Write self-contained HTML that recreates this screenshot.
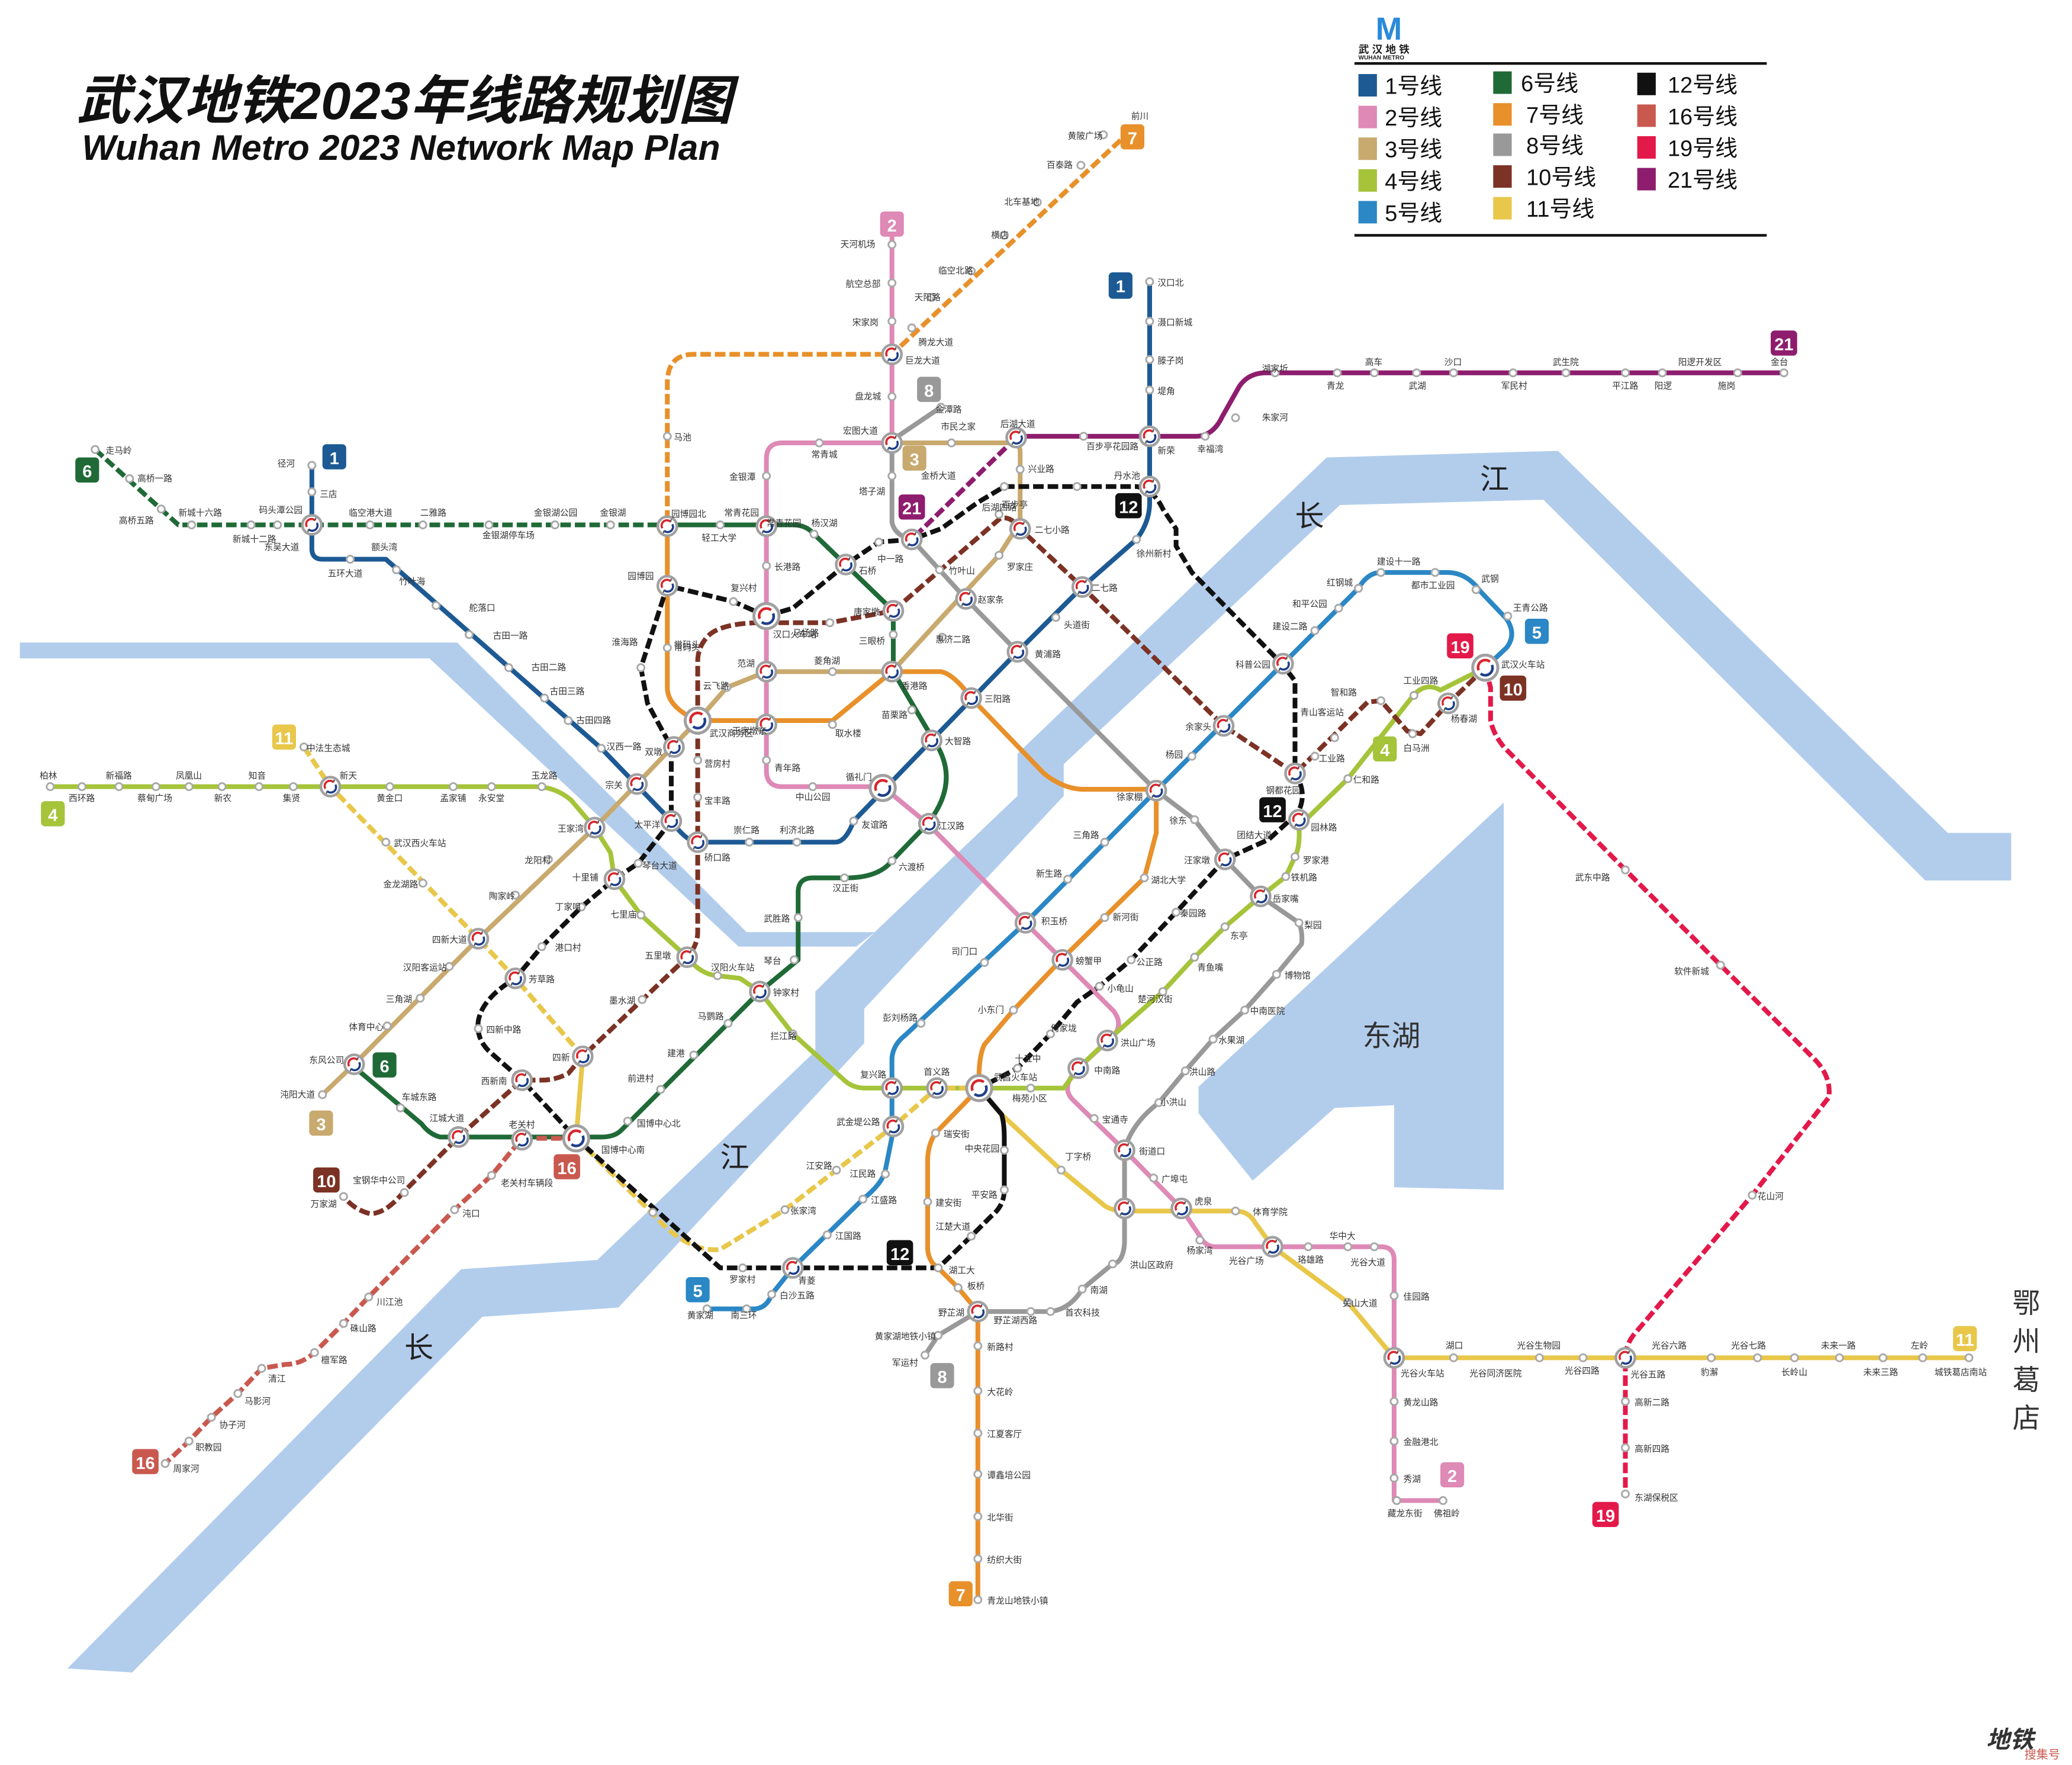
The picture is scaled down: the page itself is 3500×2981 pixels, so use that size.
<!DOCTYPE html>
<html><head><meta charset="utf-8"><style>
html,body{margin:0;padding:0;background:#fff;}
svg{display:block;}
text{font-family:"Liberation Sans","Noto Sans CJK SC",sans-serif;}
.l{font-size:6.6px;fill:#333;}
.m{font-size:13px;fill:#fff;text-anchor:middle;font-weight:bold;}
.ln{fill:none;stroke-width:3.6;stroke-linejoin:round;stroke-linecap:round;}
.d{stroke-dasharray:8 3;stroke-linecap:butt;}
</style></head><body>
<svg xmlns="http://www.w3.org/2000/svg" width="3500" height="2981" viewBox="0 0 1568 1335" preserveAspectRatio="none">
<defs>
<g id="s"><circle r="2.7" fill="#fff" stroke="#a8a8a8" stroke-width="1.3"/></g>
<g id="x"><circle r="7.2" fill="#fff" stroke="#a0a0a0" stroke-width="2"/><path d="M-3.8,1.5 A4,4 0 0 1 2.5,-3.3" fill="none" stroke="#d8262c" stroke-width="1.6"/><path d="M3.8,-1.5 A4,4 0 0 1 -2.5,3.3" fill="none" stroke="#1d3f8a" stroke-width="1.6"/><path d="M2.5,-3.3 l0.5,-2 M-2.5,3.3 l-0.5,2" stroke="#555" stroke-width="1"/></g>
<g id="X"><circle r="9.5" fill="#fff" stroke="#a0a0a0" stroke-width="2.2"/><path d="M-5,2 A5.5,5.5 0 0 1 3.5,-4.5" fill="none" stroke="#d8262c" stroke-width="2"/><path d="M5,-2 A5.5,5.5 0 0 1 -3.5,4.5" fill="none" stroke="#1d3f8a" stroke-width="2"/></g>
</defs>
<rect width="1568" height="1335" fill="#fff"/>

<!-- rivers -->
<g fill="#b2cdec">
<path d="M51,1262 L349,960 L452,953 L617,795 L617,750 L663,704 L770,602 L770,570 L1004,346 L1179,341 L1474,630 L1522,630 L1522,666 L1457,666 L1168,378 L1014,382 L805,578 L805,602 L654,763 L654,789 L468,989 L365,996 L100,1265 Z"/>
<path d="M15,486 L346,486 L565,705 L662,705 L648,716 L559,716 L325,498 L15,498 Z"/>
<path d="M1138,607 L907,822 L907,842 L948,893 L1010,838 L1055,836 L1055,898 L1138,900 Z"/>
</g>
<text x="980" y="398" font-size="22" fill="#222" font-family="Liberation Serif,'Noto Serif CJK SC',serif">长</text>
<text x="1120" y="370" font-size="22" fill="#222" font-family="Liberation Serif,'Noto Serif CJK SC',serif">江</text>
<text x="545" y="883" font-size="22" fill="#222" font-family="Liberation Serif,'Noto Serif CJK SC',serif">江</text>
<text x="306" y="1027" font-size="22" fill="#222" font-family="Liberation Serif,'Noto Serif CJK SC',serif">长</text>
<text x="1031" y="791" font-size="22" fill="#333">东湖</text>
<g font-size="21" fill="#333"><text x="1523" y="993">鄂</text><text x="1523" y="1022">州</text><text x="1523" y="1051">葛</text><text x="1523" y="1080">店</text></g>

<!-- title -->
<text x="58" y="90" font-size="40" font-weight="bold" font-style="italic" fill="#111" textLength="496" lengthAdjust="spacingAndGlyphs">武汉地铁2023年线路规划图</text>
<text x="62" y="121" font-size="27" font-weight="bold" font-style="italic" fill="#111" textLength="483" lengthAdjust="spacingAndGlyphs">Wuhan Metro 2023 Network Map Plan</text>

<!-- legend -->
<text x="1041" y="30" font-size="24" font-weight="bold" fill="#2a8ad8">M</text>
<text x="1028" y="40" font-size="8" font-weight="bold" fill="#222">武 汉 地 铁</text>
<text x="1028" y="45" font-size="4.5" font-weight="bold" fill="#222">WUHAN METRO</text>
<rect x="1025" y="47" width="312" height="2" fill="#111"/>
<rect x="1025" y="177" width="312" height="2" fill="#111"/>
<g font-size="17" fill="#111">
<rect x="1028" y="56" width="14" height="17" fill="#1d5a94"/><text x="1048" y="71">1号线</text>
<rect x="1028" y="80" width="14" height="17" fill="#de89b6"/><text x="1048" y="95">2号线</text>
<rect x="1028" y="104" width="14" height="17" fill="#c8a96e"/><text x="1048" y="119">3号线</text>
<rect x="1028" y="128" width="14" height="17" fill="#a5c43a"/><text x="1048" y="143">4号线</text>
<rect x="1028" y="152" width="14" height="17" fill="#2b87c5"/><text x="1048" y="167">5号线</text>
<rect x="1130" y="54" width="14" height="17" fill="#1f6a37"/><text x="1151" y="69">6号线</text>
<rect x="1130" y="78" width="14" height="17" fill="#e8902a"/><text x="1155" y="93">7号线</text>
<rect x="1130" y="101" width="14" height="17" fill="#999"/><text x="1155" y="116">8号线</text>
<rect x="1130" y="125" width="14" height="17" fill="#7c3224"/><text x="1155" y="140">10号线</text>
<rect x="1130" y="149" width="14" height="17" fill="#e8c74a"/><text x="1155" y="164">11号线</text>
<rect x="1239" y="55" width="14" height="17" fill="#111"/><text x="1262" y="70">12号线</text>
<rect x="1239" y="79" width="14" height="17" fill="#c9594f"/><text x="1262" y="94">16号线</text>
<rect x="1239" y="103" width="14" height="17" fill="#e3194a"/><text x="1262" y="118">19号线</text>
<rect x="1239" y="127" width="14" height="17" fill="#8e1d6e"/><text x="1262" y="142">21号线</text>
</g>

<!-- lines -->
<path class="ln" stroke="#8e1d6e" d="M1350,282 H958 Q945,282 938,292 L925,315 Q918,330 905,330 H769"/>
<path class="ln d" stroke="#8e1d6e" d="M769,331 L690,408"/>
<path class="ln" stroke="#999" d="M712,308 L675,333 V395 Q677,405 690,408 L711,431 L731,453 L770,493 L875,598 L904,620 L927,650 L954,678 L983,698 Q986,705 985,714 L966,737 L942,764 L918,786 L897,810 L877,834 Q856,850 851,870 V940 Q850,955 842,956 L819,975 Q810,990 795,992 H740 L710,1010 L700,1025"/>
<path class="ln" stroke="#c8a96e" d="M675,335 H765 Q772,335 772,342 V395 L756,420 L675,508 H580 L550,520 L528,545 L482,593 L450,626 L362,710 L268,805 L244,828"/>
<path class="ln" stroke="#1d5a94" d="M236,352 V415 Q236,423 244,423 H292 L455,566 L508,621 Q520,637 528,637 H632 Q640,637 646,621 L705,560 L770,493 L819,444 L860,408 Q870,395 870,380 V213"/>
<path class="ln" stroke="#de89b6" d="M675,178 V335 H592 Q580,335 580,347 V583 Q580,595 592,595 H668 L702,623 L776,698 L804,726 L843,765 Q850,775 843,783 L816,808 Q802,822 812,832 L851,870 L894,914 L908,935 Q912,943 920,943 H1045 Q1055,943 1055,953 V1135 H1092"/>
<path class="ln" stroke="#a5c43a" d="M38,595 H405 Q420,595 432,605 L450,626 L462,645 L465,665 L485,692 L520,724 Q530,737 543,738 L560,740 L575,750 L600,782 L640,818 Q646,823 655,823 H805 L816,808 L838,787 L880,750 L904,724 L927,701 L954,678 L973,663 L980,648 Q984,640 983,625 L1020,589 L1068,528 Q1078,515 1090,522 L1124,505"/>
<path class="ln" stroke="#2b87c5" d="M535,990 H570 Q580,990 584,979 L600,959 L653,907 Q668,895 670,885 L675,860 V800 Q676,790 685,783 L776,698 L875,598 L971,502 L1028,445 Q1035,433 1045,433 H1095 Q1110,433 1120,447 L1140,468 Q1148,480 1140,490 L1124,505"/>
<path class="ln d" stroke="#1f6a37" d="M72,340 L135,397 H505"/>
<path class="ln" stroke="#1f6a37" d="M505,397 H600 Q610,397 616,404 L676,462 V508 L706,559 Q728,590 702,623 L675,651 Q665,664 640,664 H615 Q604,664 604,675 V726 L575,750 L470,855 Q465,860 455,860 H333 Q325,858 319,850 L268,807"/>
<path class="ln d" stroke="#e8902a" d="M848,106 L675,268 H525 Q505,268 505,290 V398"/>
<path class="ln" stroke="#e8902a" d="M505,398 V520 Q505,535 528,545 H630 L675,508 H712 Q722,510 735,528 L790,585 Q805,597 820,597 H875 V630 L866,664 L805,724 L767,764 L745,790 Q740,800 741,823 L708,857 Q702,866 702,878 V945 Q703,955 710,959 L725,974 L740,992 V1210"/>
<path class="ln d" stroke="#7c3224" d="M1124,505 L1096,532 L1075,555 L1065,553 L1045,530 L1035,531 L980,585 L926,549 L819,444 L772,400 Q765,390 757,392 L676,462 L628,471 H585 Q545,470 535,482 Q528,490 528,500 V705 Q528,715 520,724 L441,799 L430,812 Q420,817 410,817 H395 L347,860 L305,902 Q292,918 280,918 Q268,915 260,905"/>
<path class="ln d" stroke="#e8c74a" d="M230,565 L250,595 L362,710 L390,740 L441,799"/>
<path class="ln" stroke="#e8c74a" d="M441,799 L436,861"/>
<path class="ln d" stroke="#e8c74a" d="M436,861 L493,917 Q520,948 545,945 L594,915 L633,885 L676,852 L709,823 L741,823"/>
<path class="ln" stroke="#e8c74a" d="M741,823 L758,843 L803,885 L836,912 Q842,916 851,916 H935 Q945,916 950,925 L963,943 L1020,985 L1055,1027 H1490"/>
<path class="ln d" stroke="#111" d="M580,466 L600,460 L640,427 L665,410 L690,408 L712,400 L740,380 L760,368 H860 Q873,370 880,385 L890,400 V413 L902,433 L970,502 L980,515 V585 Q990,600 982,615 L960,635 L927,650 L890,690 L856,726 L832,746 L815,758 L795,782 L770,808 L741,823"/>
<path class="ln" stroke="#111" d="M741,823 L758,843 Q760,850 760,860 V900"/>
<path class="ln d" stroke="#111" d="M760,900 Q760,912 750,920 L735,935 L710,959 H545 L436,861 L395,817 L370,795 Q360,785 362,772 Q365,755 390,740 L410,716 L440,686 L465,665 L483,653 L508,621 V565 L490,532 L485,505 L505,443 L555,455 L580,466"/>
<path class="ln d" stroke="#c9594f" d="M436,861 H395 L372,889 L344,915 L279,981 L260,1001 L238,1023 Q228,1032 216,1032 L198,1035 L180,1054 L160,1072 L143,1090 L125,1107"/>
<path class="ln d" stroke="#e3194a" d="M1124,505 L1128,520 V545 Q1130,555 1138,565 L1230,658 L1374,802 Q1386,815 1384,830 L1326,904 L1236,1010 Q1230,1018 1230,1027 V1130"/>

<!-- stations -->
<g>
<use href="#s" x="236" y="352"/><use href="#s" x="236" y="372"/><use href="#s" x="265" y="423"/><use href="#s" x="300" y="431"/><use href="#s" x="330" y="458"/><use href="#s" x="355" y="480"/><use href="#s" x="385" y="505"/><use href="#s" x="412" y="528"/><use href="#s" x="430" y="545"/><use href="#s" x="455" y="566"/><use href="#s" x="567" y="637"/><use href="#s" x="603" y="637"/><use href="#s" x="646" y="621"/><use href="#s" x="799" y="467"/><use href="#s" x="860" y="408"/><use href="#s" x="870" y="213"/><use href="#s" x="870" y="243"/><use href="#s" x="870" y="272"/><use href="#s" x="870" y="295"/>
<use href="#s" x="675" y="185"/><use href="#s" x="675" y="214"/><use href="#s" x="675" y="243"/><use href="#s" x="675" y="300"/><use href="#s" x="620" y="335"/><use href="#s" x="580" y="360"/><use href="#s" x="580" y="428"/><use href="#s" x="580" y="575"/><use href="#s" x="615" y="595"/><use href="#s" x="828" y="846"/><use href="#s" x="873" y="891"/><use href="#s" x="908" y="938"/><use href="#s" x="990" y="943"/><use href="#s" x="1020" y="943"/><use href="#s" x="1040" y="943"/><use href="#s" x="1055" y="980"/><use href="#s" x="1055" y="1060"/><use href="#s" x="1055" y="1090"/><use href="#s" x="1055" y="1118"/><use href="#s" x="1057" y="1135"/><use href="#s" x="1092" y="1135"/>
<use href="#s" x="720" y="335"/><use href="#s" x="772" y="355"/><use href="#s" x="756" y="420"/><use href="#s" x="713" y="482"/><use href="#s" x="630" y="508"/><use href="#s" x="550" y="520"/><use href="#s" x="415" y="650"/><use href="#s" x="390" y="677"/><use href="#s" x="340" y="731"/><use href="#s" x="318" y="755"/><use href="#s" x="293" y="776"/><use href="#s" x="244" y="828"/>
<use href="#s" x="38" y="595"/><use href="#s" x="62" y="595"/><use href="#s" x="90" y="595"/><use href="#s" x="118" y="595"/><use href="#s" x="143" y="595"/><use href="#s" x="168" y="595"/><use href="#s" x="196" y="595"/><use href="#s" x="222" y="595"/><use href="#s" x="295" y="595"/><use href="#s" x="343" y="595"/><use href="#s" x="372" y="595"/><use href="#s" x="410" y="595"/><use href="#s" x="485" y="692"/><use href="#s" x="543" y="738"/><use href="#s" x="600" y="782"/><use href="#s" x="780" y="823"/><use href="#s" x="880" y="750"/><use href="#s" x="904" y="724"/><use href="#s" x="927" y="701"/><use href="#s" x="973" y="663"/><use href="#s" x="980" y="648"/><use href="#s" x="1020" y="589"/><use href="#s" x="1070" y="526"/>
<use href="#s" x="535" y="990"/><use href="#s" x="565" y="990"/><use href="#s" x="584" y="979"/><use href="#s" x="626" y="934"/><use href="#s" x="653" y="907"/><use href="#s" x="670" y="888"/><use href="#s" x="697" y="774"/><use href="#s" x="745" y="728"/><use href="#s" x="808" y="665"/><use href="#s" x="836" y="637"/><use href="#s" x="902" y="572"/><use href="#s" x="995" y="477"/><use href="#s" x="1013" y="460"/><use href="#s" x="1028" y="445"/><use href="#s" x="1045" y="433"/><use href="#s" x="1086" y="433"/><use href="#s" x="1117" y="446"/><use href="#s" x="1141" y="466"/>
<use href="#s" x="72" y="340"/><use href="#s" x="98" y="362"/><use href="#s" x="122" y="385"/><use href="#s" x="145" y="397"/><use href="#s" x="190" y="397"/><use href="#s" x="210" y="397"/><use href="#s" x="280" y="397"/><use href="#s" x="320" y="397"/><use href="#s" x="370" y="397"/><use href="#s" x="420" y="397"/><use href="#s" x="462" y="397"/><use href="#s" x="545" y="397"/><use href="#s" x="616" y="404"/><use href="#s" x="676" y="480"/><use href="#s" x="690" y="537"/><use href="#s" x="675" y="651"/><use href="#s" x="639" y="664"/><use href="#s" x="604" y="694"/><use href="#s" x="601" y="726"/><use href="#s" x="551" y="774"/><use href="#s" x="525" y="798"/><use href="#s" x="500" y="824"/><use href="#s" x="475" y="848"/><use href="#s" x="303" y="838"/>
<use href="#s" x="835" y="102"/><use href="#s" x="818" y="125"/><use href="#s" x="785" y="153"/><use href="#s" x="760" y="178"/><use href="#s" x="735" y="205"/><use href="#s" x="705" y="225"/><use href="#s" x="690" y="248"/><use href="#s" x="505" y="330"/><use href="#s" x="505" y="490"/><use href="#s" x="630" y="548"/><use href="#s" x="866" y="664"/><use href="#s" x="836" y="694"/><use href="#s" x="767" y="764"/><use href="#s" x="708" y="857"/><use href="#s" x="702" y="909"/><use href="#s" x="710" y="959"/><use href="#s" x="725" y="974"/><use href="#s" x="740" y="1018"/><use href="#s" x="740" y="1052"/><use href="#s" x="740" y="1084"/><use href="#s" x="740" y="1115"/><use href="#s" x="740" y="1147"/><use href="#s" x="740" y="1179"/><use href="#s" x="740" y="1210"/>
<use href="#s" x="712" y="308"/><use href="#s" x="675" y="360"/><use href="#s" x="711" y="431"/><use href="#s" x="731" y="453"/><use href="#s" x="904" y="620"/><use href="#s" x="983" y="698"/><use href="#s" x="966" y="737"/><use href="#s" x="942" y="764"/><use href="#s" x="918" y="786"/><use href="#s" x="897" y="810"/><use href="#s" x="877" y="834"/><use href="#s" x="842" y="956"/><use href="#s" x="819" y="975"/><use href="#s" x="795" y="992"/><use href="#s" x="780" y="992"/><use href="#s" x="710" y="1010"/><use href="#s" x="700" y="1025"/>
<use href="#s" x="1069" y="555"/><use href="#s" x="1045" y="530"/><use href="#s" x="1010" y="558"/><use href="#s" x="995" y="572"/><use href="#s" x="756" y="389"/><use href="#s" x="628" y="471"/><use href="#s" x="528" y="575"/><use href="#s" x="528" y="603"/><use href="#s" x="486" y="756"/><use href="#s" x="306" y="902"/><use href="#s" x="260" y="905"/>
<use href="#s" x="230" y="565"/><use href="#s" x="292" y="637"/><use href="#s" x="320" y="668"/><use href="#s" x="494" y="917"/><use href="#s" x="594" y="915"/><use href="#s" x="633" y="885"/><use href="#s" x="803" y="885"/><use href="#s" x="935" y="916"/><use href="#s" x="1020" y="985"/><use href="#s" x="1100" y="1027"/><use href="#s" x="1165" y="1027"/><use href="#s" x="1198" y="1027"/><use href="#s" x="1295" y="1027"/><use href="#s" x="1330" y="1027"/><use href="#s" x="1358" y="1027"/><use href="#s" x="1392" y="1027"/><use href="#s" x="1425" y="1027"/><use href="#s" x="1455" y="1027"/><use href="#s" x="1490" y="1027"/>
<use href="#s" x="555" y="455"/><use href="#s" x="665" y="410"/><use href="#s" x="760" y="368"/><use href="#s" x="815" y="368"/><use href="#s" x="890" y="690"/><use href="#s" x="856" y="726"/><use href="#s" x="832" y="746"/><use href="#s" x="795" y="782"/><use href="#s" x="770" y="808"/><use href="#s" x="760" y="870"/><use href="#s" x="760" y="900"/><use href="#s" x="735" y="935"/><use href="#s" x="562" y="959"/><use href="#s" x="362" y="778"/><use href="#s" x="410" y="716"/><use href="#s" x="440" y="686"/><use href="#s" x="483" y="653"/><use href="#s" x="485" y="505"/>
<use href="#s" x="372" y="889"/><use href="#s" x="344" y="915"/><use href="#s" x="279" y="981"/><use href="#s" x="260" y="1001"/><use href="#s" x="238" y="1023"/><use href="#s" x="198" y="1035"/><use href="#s" x="180" y="1054"/><use href="#s" x="160" y="1072"/><use href="#s" x="143" y="1090"/><use href="#s" x="125" y="1107"/>
<use href="#s" x="1230" y="658"/><use href="#s" x="1302" y="730"/><use href="#s" x="1326" y="904"/><use href="#s" x="1230" y="1060"/><use href="#s" x="1230" y="1095"/><use href="#s" x="1230" y="1130"/>
<use href="#s" x="1350" y="282"/><use href="#s" x="1315" y="282"/><use href="#s" x="1258" y="282"/><use href="#s" x="1230" y="282"/><use href="#s" x="1185" y="282"/><use href="#s" x="1145" y="282"/><use href="#s" x="1100" y="282"/><use href="#s" x="1072" y="282"/><use href="#s" x="1040" y="282"/><use href="#s" x="1012" y="282"/><use href="#s" x="965" y="282"/><use href="#s" x="935" y="316"/><use href="#s" x="912" y="330"/><use href="#s" x="820" y="330"/>
</g>

<!-- interchanges -->
<g>
<use href="#x" x="236" y="397"/><use href="#x" x="505" y="398"/><use href="#x" x="580" y="398"/><use href="#x" x="675" y="268"/><use href="#x" x="675" y="335"/><use href="#x" x="769" y="331"/><use href="#x" x="870" y="330"/><use href="#x" x="772" y="400"/><use href="#x" x="870" y="368"/><use href="#x" x="690" y="408"/><use href="#x" x="640" y="427"/><use href="#X" x="580" y="466"/><use href="#x" x="505" y="443"/><use href="#x" x="676" y="462"/><use href="#x" x="819" y="444"/><use href="#x" x="731" y="453"/><use href="#x" x="770" y="493"/><use href="#x" x="735" y="528"/><use href="#x" x="675" y="508"/><use href="#x" x="580" y="508"/><use href="#X" x="528" y="545"/><use href="#x" x="580" y="548"/><use href="#x" x="510" y="565"/><use href="#x" x="482" y="593"/><use href="#x" x="508" y="621"/><use href="#x" x="528" y="637"/><use href="#X" x="668" y="596"/><use href="#x" x="705" y="560"/><use href="#x" x="703" y="623"/><use href="#x" x="450" y="626"/><use href="#x" x="465" y="665"/><use href="#x" x="362" y="710"/><use href="#x" x="390" y="740"/><use href="#x" x="520" y="724"/><use href="#x" x="575" y="750"/><use href="#x" x="441" y="799"/><use href="#x" x="395" y="817"/><use href="#x" x="268" y="805"/><use href="#x" x="347" y="860"/><use href="#x" x="395" y="862"/><use href="#X" x="436" y="861"/><use href="#x" x="250" y="595"/><use href="#x" x="675" y="823"/><use href="#x" x="709" y="823"/><use href="#X" x="741" y="823"/><use href="#x" x="676" y="852"/><use href="#x" x="776" y="698"/><use href="#x" x="804" y="726"/><use href="#x" x="875" y="598"/><use href="#x" x="926" y="549"/><use href="#x" x="971" y="502"/><use href="#x" x="980" y="585"/><use href="#x" x="983" y="620"/><use href="#x" x="927" y="650"/><use href="#x" x="954" y="678"/><use href="#x" x="838" y="787"/><use href="#x" x="816" y="808"/><use href="#x" x="851" y="870"/><use href="#x" x="851" y="914"/><use href="#x" x="894" y="914"/><use href="#x" x="963" y="943"/><use href="#x" x="1055" y="1027"/><use href="#x" x="1230" y="1027"/><use href="#X" x="1124" y="505"/><use href="#x" x="1096" y="532"/><use href="#x" x="740" y="992"/><use href="#x" x="600" y="959"/>
</g>

<!-- markers -->
<g>
<rect x="839" y="206" width="18" height="20" rx="3" fill="#1d5a94"/><text class="m" x="848" y="221">1</text>
<rect x="244" y="336" width="18" height="19" rx="3" fill="#1d5a94"/><text class="m" x="253" y="351">1</text>
<rect x="666" y="160" width="18" height="19" rx="3" fill="#de89b6"/><text class="m" x="675" y="175">2</text>
<rect x="1090" y="1106" width="18" height="19" rx="3" fill="#de89b6"/><text class="m" x="1099" y="1121">2</text>
<rect x="683" y="337" width="18" height="19" rx="3" fill="#c8a96e"/><text class="m" x="692" y="352">3</text>
<rect x="234" y="840" width="18" height="19" rx="3" fill="#c8a96e"/><text class="m" x="243" y="855">3</text>
<rect x="31" y="606" width="18" height="19" rx="3" fill="#a5c43a"/><text class="m" x="40" y="621">4</text>
<rect x="1039" y="557" width="18" height="19" rx="3" fill="#a5c43a"/><text class="m" x="1048" y="572">4</text>
<rect x="1154" y="468" width="18" height="19" rx="3" fill="#2b87c5"/><text class="m" x="1163" y="483">5</text>
<rect x="519" y="966" width="18" height="19" rx="3" fill="#2b87c5"/><text class="m" x="528" y="981">5</text>
<rect x="57" y="346" width="18" height="19" rx="3" fill="#1f6a37"/><text class="m" x="66" y="361">6</text>
<rect x="282" y="796" width="18" height="19" rx="3" fill="#1f6a37"/><text class="m" x="291" y="811">6</text>
<rect x="848" y="94" width="18" height="19" rx="3" fill="#e8902a"/><text class="m" x="857" y="109">7</text>
<rect x="718" y="1196" width="18" height="19" rx="3" fill="#e8902a"/><text class="m" x="727" y="1211">7</text>
<rect x="694" y="285" width="18" height="19" rx="3" fill="#999"/><text class="m" x="703" y="300">8</text>
<rect x="704" y="1031" width="18" height="19" rx="3" fill="#999"/><text class="m" x="713" y="1046">8</text>
<rect x="1135" y="511" width="20" height="19" rx="3" fill="#7c3224"/><text class="m" x="1145" y="526">10</text>
<rect x="237" y="883" width="20" height="19" rx="3" fill="#7c3224"/><text class="m" x="247" y="898">10</text>
<rect x="206" y="548" width="18" height="19" rx="3" fill="#e8c74a"/><text class="m" x="215" y="563">11</text>
<rect x="1478" y="1003" width="18" height="19" rx="3" fill="#e8c74a"/><text class="m" x="1487" y="1018">11</text>
<rect x="844" y="373" width="20" height="19" rx="3" fill="#111"/><text class="m" x="854" y="388">12</text>
<rect x="953" y="603" width="20" height="19" rx="3" fill="#111"/><text class="m" x="963" y="618">12</text>
<rect x="671" y="938" width="20" height="19" rx="3" fill="#111"/><text class="m" x="681" y="953">12</text>
<rect x="100" y="1096" width="20" height="19" rx="3" fill="#c9594f"/><text class="m" x="110" y="1111">16</text>
<rect x="419" y="873" width="20" height="19" rx="3" fill="#c9594f"/><text class="m" x="429" y="888">16</text>
<rect x="1095" y="479" width="20" height="19" rx="3" fill="#e3194a"/><text class="m" x="1105" y="494">19</text>
<rect x="1205" y="1136" width="20" height="19" rx="3" fill="#e3194a"/><text class="m" x="1215" y="1151">19</text>
<rect x="1340" y="250" width="20" height="19" rx="3" fill="#8e1d6e"/><text class="m" x="1350" y="265">21</text>
<rect x="680" y="374" width="20" height="19" rx="3" fill="#8e1d6e"/><text class="m" x="690" y="389">21</text>
</g>

<!-- labels -->
<g class="l">
<text x="876" y="216">汉口北</text><text x="876" y="246">滠口新城</text><text x="876" y="275">滕子岗</text><text x="876" y="298">堤角</text><text x="876" y="343">新荣</text><text x="843" y="362">丹水池</text><text x="860" y="421">徐州新村</text><text x="826" y="447">二七路</text><text x="805" y="475">头道街</text><text x="783" y="497">黄浦路</text><text x="745" y="531">三阳路</text><text x="715" y="563">大智路</text><text x="640" y="590">循礼门</text><text x="652" y="626">友谊路</text><text x="590" y="630">利济北路</text><text x="555" y="630">崇仁路</text><text x="533" y="651">硚口路</text><text x="480" y="626">太平洋</text><text x="458" y="596">宗关</text><text x="459" y="567">汉西一路</text><text x="436" y="547">古田四路</text><text x="416" y="525">古田三路</text><text x="402" y="507">古田二路</text><text x="373" y="483">古田一路</text><text x="355" y="462">舵落口</text><text x="302" y="442">竹叶海</text><text x="281" y="416">额头湾</text><text x="248" y="436">五环大道</text><text x="242" y="376">三店</text><text x="210" y="353">径河</text>
<text x="636" y="187">天河机场</text><text x="640" y="217">航空总部</text><text x="645" y="246">宋家岗</text><text x="685" y="275">巨龙大道</text><text x="647" y="302">盘龙城</text><text x="638" y="328">宏图大道</text><text x="614" y="346">常青城</text><text x="552" y="363">金银潭</text><text x="586" y="431">长港路</text><text x="558" y="504">范湖</text><text x="554" y="555">王家墩东</text><text x="586" y="583">青年路</text><text x="602" y="605">中山公园</text><text x="710" y="627">江汉路</text><text x="788" y="699">积玉桥</text><text x="814" y="729">螃蟹甲</text><text x="848" y="791">洪山广场</text><text x="828" y="812">中南路</text><text x="834" y="849">宝通寺</text><text x="862" y="873">街道口</text><text x="879" y="894">广埠屯</text><text x="904" y="911">虎泉</text><text x="898" y="948">杨家湾</text><text x="930" y="956">光谷广场</text><text x="982" y="955">珞雄路</text><text x="1006" y="937">华中大</text><text x="1022" y="957">光谷大道</text><text x="1062" y="983">佳园路</text><text x="1062" y="1063">黄龙山路</text><text x="1062" y="1093">金融港北</text><text x="1062" y="1121">秀湖</text><text x="1050" y="1147">藏龙东街</text><text x="1085" y="1147">佛祖岭</text>
<text x="712" y="325">市民之家</text><text x="757" y="323">后湖大道</text><text x="778" y="357">兴业路</text><text x="743" y="386">后湖四路</text><text x="783" y="403">二七小路</text><text x="762" y="431">罗家庄</text><text x="708" y="486">惠济二路</text><text x="682" y="521">香港路</text><text x="616" y="502">菱角湖</text><text x="532" y="521">云飞路</text><text x="537" y="557">武汉商务区</text><text x="488" y="571">双墩</text><text x="422" y="629">王家湾</text><text x="397" y="653">龙阳村</text><text x="370" y="680">陶家岭</text><text x="327" y="713">四新大道</text><text x="305" y="734">汉阳客运站</text><text x="292" y="758">三角湖</text><text x="264" y="779">体育中心</text><text x="234" y="804">东风公司</text><text x="212" y="830">沌阳大道</text>
<text x="30" y="589">柏林</text><text x="52" y="606">西环路</text><text x="80" y="589">新福路</text><text x="104" y="606">蔡甸广场</text><text x="133" y="589">凤凰山</text><text x="162" y="606">新农</text><text x="188" y="589">知音</text><text x="214" y="606">集贤</text><text x="257" y="589">新天</text><text x="285" y="606">黄金口</text><text x="333" y="606">孟家铺</text><text x="362" y="606">永安堂</text><text x="402" y="589">玉龙路</text><text x="433" y="666">十里铺</text><text x="462" y="694">七里庙</text><text x="488" y="725">五里墩</text><text x="538" y="734">汉阳火车站</text><text x="585" y="753">钟家村</text><text x="583" y="786">拦江路</text><text x="651" y="815">复兴路</text><text x="699" y="813">首义路</text><text x="752" y="817">武昌火车站</text><text x="766" y="833">梅苑小区</text><text x="861" y="758">楚河汉街</text><text x="906" y="734">青鱼嘴</text><text x="931" y="710">东亭</text><text x="963" y="682">岳家嘴</text><text x="977" y="666">铁机路</text><text x="986" y="653">罗家港</text><text x="992" y="628">园林路</text><text x="1024" y="592">仁和路</text><text x="1062" y="517">工业四路</text><text x="1062" y="568">白马洲</text><text x="1098" y="546">杨春湖</text><text x="1136" y="505">武汉火车站</text>
<text x="520" y="997">黄家湖</text><text x="553" y="997">南三环</text><text x="590" y="982">白沙五路</text><text x="604" y="971">青菱</text><text x="632" y="937">江国路</text><text x="659" y="910">江盛路</text><text x="643" y="890">江民路</text><text x="633" y="851">武金堤公路</text><text x="668" y="772">彭刘杨路</text><text x="720" y="722">司门口</text><text x="784" y="663">新生路</text><text x="812" y="634">三角路</text><text x="845" y="605">徐家棚</text><text x="882" y="573">杨园</text><text x="897" y="552">余家头</text><text x="935" y="505">科普公园</text><text x="963" y="476">建设二路</text><text x="978" y="459">和平公园</text><text x="1004" y="443">红钢城</text><text x="1042" y="427">建设十一路</text><text x="1068" y="445">都市工业园</text><text x="1121" y="440">武钢</text><text x="1145" y="462">王青公路</text>
<text x="80" y="343">走马岭</text><text x="104" y="364">高桥一路</text><text x="90" y="396">高桥五路</text><text x="135" y="390">新城十六路</text><text x="176" y="410">新城十二路</text><text x="200" y="416">东吴大道</text><text x="196" y="388">码头潭公园</text><text x="264" y="390">临空港大道</text><text x="318" y="390">二雅路</text><text x="404" y="390">金银湖公园</text><text x="365" y="407">金银湖停车场</text><text x="454" y="390">金银湖</text><text x="508" y="391">园博园北</text><text x="548" y="390">常青花园</text><text x="531" y="409">轻工大学</text><text x="614" y="398">杨汉湖</text><text x="650" y="434">石桥</text><text x="646" y="465">唐家墩</text><text x="650" y="487">三眼桥</text><text x="667" y="543">苗栗路</text><text x="680" y="658">六渡桥</text><text x="630" y="674">汉正街</text><text x="578" y="697">武胜路</text><text x="578" y="729">琴台</text><text x="528" y="771">马鹦路</text><text x="505" y="799">建港</text><text x="475" y="818">前进村</text><text x="482" y="852">国博中心北</text><text x="455" y="872">国博中心南</text><text x="325" y="848">江城大道</text><text x="304" y="832">车城东路</text><text x="385" y="853">老关村</text>
<text x="808" y="105">黄陂广场</text><text x="856" y="90">前川</text><text x="792" y="127">百泰路</text><text x="760" y="155">北车基地</text><text x="750" y="180">横店</text><text x="710" y="207">临空北路</text><text x="692" y="227">天阳路</text><text x="695" y="261">腾龙大道</text><text x="510" y="333">马池</text><text x="475" y="438">园博园</text><text x="510" y="492">常码头</text><text x="632" y="557">取水楼</text><text x="871" y="668">湖北大学</text><text x="842" y="696">新河街</text><text x="740" y="766">小东门</text><text x="714" y="860">瑞安街</text><text x="708" y="912">建安街</text><text x="718" y="963">湖工大</text><text x="732" y="975">板桥</text><text x="710" y="995">野芷湖</text><text x="747" y="1021">新路村</text><text x="747" y="1055">大花岭</text><text x="747" y="1087">江夏客厅</text><text x="747" y="1118">谭鑫培公园</text><text x="747" y="1150">北华街</text><text x="747" y="1182">纺织大街</text><text x="747" y="1213">青龙山地铁小镇</text>
<text x="708" y="312">金潭路</text><text x="650" y="374">塔子湖</text><text x="697" y="362">金桥大道</text><text x="664" y="425">中一路</text><text x="718" y="434">竹叶山</text><text x="740" y="456">赵家条</text><text x="885" y="623">徐东</text><text x="896" y="653">汪家墩</text><text x="987" y="702">梨园</text><text x="972" y="740">博物馆</text><text x="946" y="767">中南医院</text><text x="922" y="789">水果湖</text><text x="900" y="813">洪山路</text><text x="878" y="836">小洪山</text><text x="855" y="959">洪山区政府</text><text x="825" y="978">南湖</text><text x="806" y="995">首农科技</text><text x="752" y="1001">野芷湖西路</text><text x="662" y="1013">黄家湖地铁小镇</text><text x="675" y="1033">军运村</text>
<text x="1007" y="526">智和路</text><text x="984" y="541">青山客运站</text><text x="998" y="576">工业路</text><text x="958" y="600">钢都花园</text><text x="936" y="634">团结大道</text><text x="758" y="384">百步亭</text><text x="822" y="340">百步亭花园路</text><text x="600" y="481">马场路</text><text x="585" y="482">汉口火车站</text><text x="533" y="580">营房村</text><text x="533" y="608">宝丰路</text><text x="461" y="759">墨水湖</text><text x="418" y="802">四新</text><text x="364" y="820">西新南</text><text x="267" y="895">宝钢华中公司</text><text x="235" y="913">万家湖</text>
<text x="232" y="568">中法生态城</text><text x="298" y="640">武汉西火车站</text><text x="290" y="671">金龙湖路</text><text x="400" y="743">芳草路</text><text x="598" y="918">张家湾</text><text x="610" y="884">江安路</text><text x="806" y="877">丁字桥</text><text x="948" y="919">体育学院</text><text x="1016" y="988">关山大道</text><text x="1060" y="1041">光谷火车站</text><text x="1094" y="1020">湖口</text><text x="1148" y="1020">光谷生物园</text><text x="1112" y="1041">光谷同济医院</text><text x="1184" y="1039">光谷四路</text><text x="1250" y="1020">光谷六路</text><text x="1234" y="1042">光谷五路</text><text x="1287" y="1040">豹澥</text><text x="1310" y="1020">光谷七路</text><text x="1348" y="1040">长岭山</text><text x="1378" y="1020">未来一路</text><text x="1410" y="1040">未来三路</text><text x="1446" y="1020">左岭</text><text x="1464" y="1040">城铁葛店南站</text>
<text x="553" y="447">复兴村</text><text x="463" y="488">淮海路</text><text x="510" y="490">常码头</text><text x="580" y="398">常青花园</text><text x="860" y="730">公正路</text><text x="838" y="750">小龟山</text><text x="795" y="780">何家垅</text><text x="768" y="803">十五中</text><text x="730" y="871">中央花园</text><text x="735" y="906">平安路</text><text x="708" y="930">江楚大道</text><text x="552" y="970">罗家村</text><text x="368" y="781">四新中路</text><text x="420" y="719">港口村</text><text x="420" y="688">丁家咀</text><text x="486" y="657">琴台大道</text><text x="893" y="693">秦园路</text>
<text x="379" y="897">老关村车辆段</text><text x="350" y="920">沌口</text><text x="285" y="987">川江池</text><text x="265" y="1007">硃山路</text><text x="243" y="1031">檀军路</text><text x="203" y="1045">清江</text><text x="185" y="1062">马影河</text><text x="166" y="1080">协子河</text><text x="148" y="1097">职教园</text><text x="131" y="1113">周家河</text>
<text x="1192" y="666">武东中路</text><text x="1267" y="737">软件新城</text><text x="1330" y="907">花山河</text><text x="1237" y="1063">高新二路</text><text x="1237" y="1098">高新四路</text><text x="1237" y="1135">东湖保税区</text>
<text x="1340" y="276">金台</text><text x="1300" y="294">施岗</text><text x="1270" y="276">阳逻开发区</text><text x="1252" y="294">阳逻</text><text x="1220" y="294">平江路</text><text x="1175" y="276">武生院</text><text x="1136" y="294">军民村</text><text x="1093" y="276">沙口</text><text x="1066" y="294">武湖</text><text x="1033" y="276">高车</text><text x="1004" y="294">青龙</text><text x="955" y="281">湖家圻</text><text x="955" y="318">朱家河</text><text x="906" y="342">幸福湾</text>
</g>
<text x="1503" y="1322" font-size="18" font-weight="bold" font-style="italic" fill="#333">地铁</text>
<text x="1532" y="1330" font-size="9" fill="#c9594f">搜集号</text>
</svg>
</body></html>
